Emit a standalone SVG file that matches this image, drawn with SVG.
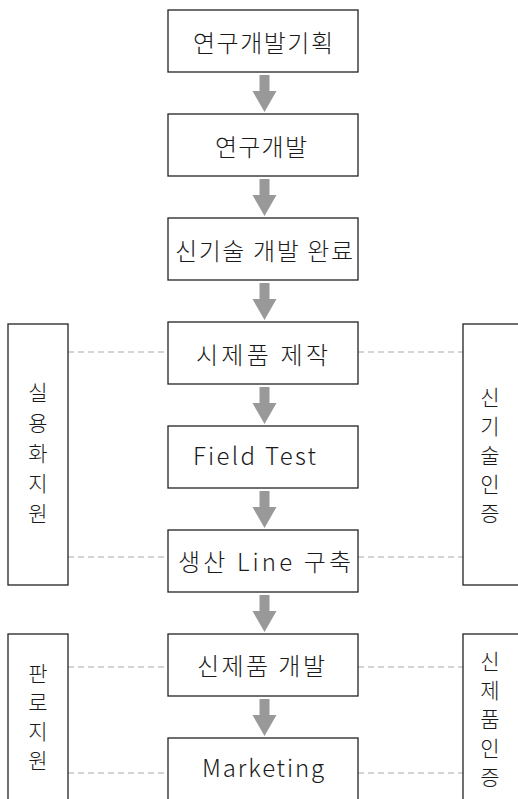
<svg xmlns="http://www.w3.org/2000/svg" width="518" height="799" viewBox="0 0 518 799">
<style>
.box{fill:#fff;stroke:#222;stroke-width:1.3}
.t{font-family:"Noto Sans CJK KR","Noto Sans",sans-serif;font-size:24px;font-weight:300;fill:#1a1a1a}
.s{font-family:"Noto Sans CJK KR","Noto Sans",sans-serif;font-size:21px;font-weight:300;fill:#1a1a1a;text-anchor:middle}
.dash{stroke:#aaa;stroke-width:1.2;stroke-dasharray:6 4;fill:none}
.arr{fill:#999}
</style>
<defs>
<path id="arrow" class="arr" d="M-5,0 H5 V16 H12 L0,37 L-12,16 H-5 Z"/>
</defs>
<rect width="518" height="799" fill="#fff"/>
<g id="connectors">
<use href="#arrow" x="264.5" y="75"/>
<use href="#arrow" x="264.5" y="179"/>
<use href="#arrow" x="264.5" y="283"/>
<use href="#arrow" x="264.5" y="387"/>
<use href="#arrow" x="264.5" y="491"/>
<use href="#arrow" x="264.5" y="595"/>
<use href="#arrow" x="264.5" y="699"/>
<line class="dash" x1="68" y1="352" x2="168" y2="352"/>
<line class="dash" x1="358" y1="352" x2="463" y2="352"/>
<line class="dash" x1="68" y1="557" x2="168" y2="557"/>
<line class="dash" x1="358" y1="557" x2="463" y2="557"/>
<line class="dash" x1="68" y1="667" x2="168" y2="667"/>
<line class="dash" x1="358" y1="667" x2="463" y2="667"/>
<line class="dash" x1="68" y1="773" x2="168" y2="773"/>
<line class="dash" x1="358" y1="773" x2="463" y2="773"/>
</g>
<g id="n1"><rect class="box" x="168" y="10" width="190" height="62"/><text class="t" x="193" y="52" textLength="140" lengthAdjust="spacing">연구개발기획</text></g>
<g id="n2"><rect class="box" x="168" y="114" width="190" height="62"/><text class="t" x="215" y="156" textLength="92" lengthAdjust="spacing">연구개발</text></g>
<g id="n3"><rect class="box" x="168" y="218" width="190" height="62"/><text class="t" x="175" y="260" textLength="178" lengthAdjust="spacing">신기술 개발 완료</text></g>
<g id="n4"><rect class="box" x="168" y="322" width="190" height="62"/><text class="t" x="196" y="364" textLength="132" lengthAdjust="spacing">시제품 제작</text></g>
<g id="n5"><rect class="box" x="168" y="426" width="190" height="62"/><text class="t" x="193" y="465" textLength="123" lengthAdjust="spacing">Field Test</text></g>
<g id="n6"><rect class="box" x="168" y="530" width="190" height="62"/><text class="t" x="178" y="571" textLength="173" lengthAdjust="spacing">생산 Line 구축</text></g>
<g id="n7"><rect class="box" x="168" y="634" width="190" height="62"/><text class="t" x="197" y="675" textLength="128" lengthAdjust="spacing">신제품 개발</text></g>
<g id="n8"><rect class="box" x="168" y="738" width="190" height="80"/><text class="t" x="202" y="777" textLength="122" lengthAdjust="spacing">Marketing</text></g>
<g id="side-l1"><rect class="box" x="8" y="324" width="60" height="261"/>
<text class="s" x="38" y="400">실</text><text class="s" x="38" y="431">용</text><text class="s" x="38" y="461">화</text><text class="s" x="38" y="491">지</text><text class="s" x="38" y="521">원</text></g>
<g id="side-r1"><rect class="box" x="463" y="324" width="70" height="261"/>
<text class="s" x="490" y="405">신</text><text class="s" x="490" y="434">기</text><text class="s" x="490" y="463">술</text><text class="s" x="490" y="492">인</text><text class="s" x="490" y="521">증</text></g>
<g id="side-l2"><rect class="box" x="8" y="634" width="60" height="180"/>
<text class="s" x="38" y="681">판</text><text class="s" x="38" y="710">로</text><text class="s" x="38" y="739">지</text><text class="s" x="38" y="768">원</text></g>
<g id="side-r2"><rect class="box" x="463" y="634" width="70" height="180"/>
<text class="s" x="490" y="669">신</text><text class="s" x="490" y="698">제</text><text class="s" x="490" y="727">품</text><text class="s" x="490" y="756">인</text><text class="s" x="490" y="785">증</text></g>
</svg>
